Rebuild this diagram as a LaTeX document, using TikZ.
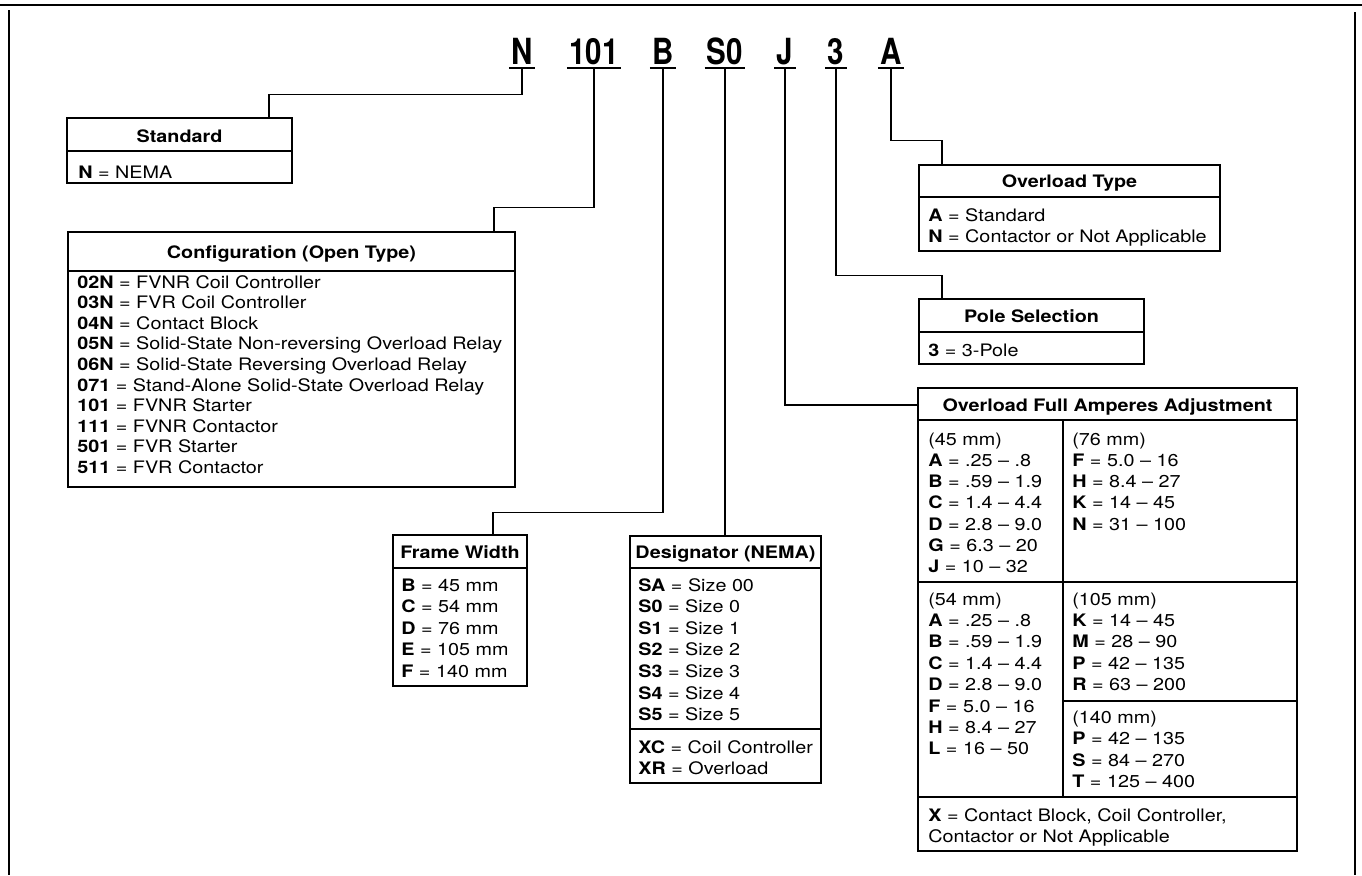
\documentclass[tikz,border=0pt]{standalone}
\usepackage{fontspec}
\setmainfont{TeX Gyre Heros}[FakeStretch=1.15]
\newfontfamily\codefont{TeX Gyre Heros}[FakeStretch=0.82]
\newcommand{\bodyfont}{\fontsize{8.6pt}{10pt}\selectfont}
\usetikzlibrary{fit, calc, positioning}

\begin{document}
\begin{tikzpicture}[
    x=0.5pt,
    y=-0.5pt,
    % Estilos del catalogo
    code char/.style={font=\codefont\bfseries\fontsize{18pt}{18pt}\selectfont, inner xsep=1pt, inner ysep=1.75pt, text depth=0pt, anchor=base},
    code rule/.style={line width=1.4pt},
    link/.style={line width=0.9pt},
    table box/.style={draw, line width=0.9pt, inner sep=0pt},
    table rule/.style={line width=0.8pt},
    table head/.style={font=\bodyfont\bfseries, anchor=base, inner sep=0pt},
    table line/.style={font=\bodyfont, anchor=base west, inner sep=0pt}
]
    \useasboundingbox (0,0) rectangle (1362,875);

    % --- 1. MARCO ---
    \draw[line width=1.4pt] (0,5) -- (1362,5);
    \draw[link] (9,10) -- (9,875);
    \draw[link] (1355,12) -- (1355,875);

    % --- 2. CODIGO DE CATALOGO ---
    \node[code char] (cN) at (522,64) {N};
    \node[code char] (cType) at (594,64) {101};
    \node[code char] (cFrame) at (663,64) {B};
    \node[code char] (cSize) at (725,64) {S0};
    \node[code char] (cAmp) at (785,64) {J};
    \node[code char] (cPole) at (836,64) {3};
    \node[code char] (cOvl) at (891,64) {A};
    \foreach \c in {cN, cType, cFrame, cSize, cAmp, cPole, cOvl}
        \draw[code rule] (\c.south west) -- (\c.south east);

    % --- 3. CAJAS ---
    \node[table box, fit={(67,118) (292,183)}] (stdbox) {};
    \node[table box, fit={(68,232) (515,487)}] (cfgbox) {};
    \node[table box, fit={(393,535) (527,686)}] (fwbox) {};
    \node[table box, fit={(630,536) (821,783)}] (desbox) {};
    \node[table box, fit={(919,165) (1220,251)}] (oltbox) {};
    \node[table box, fit={(919,299) (1144,364)}] (polebox) {};
    \node[table box, fit={(918,388) (1297,851)}] (ampbox) {};

    % --- 4. CONECTORES ---
    \path (stdbox.north east) ++(-24,0) coordinate (stdin);
    \path (cfgbox.north east) ++(-22,0) coordinate (cfgin);
    \path (fwbox.north east) ++(-35,0) coordinate (fwin);
    \path (ampbox.north west) ++(0,18) coordinate (ampin);
    \path (polebox.north west) ++(24,0) coordinate (polein);
    \path (oltbox.north west) ++(24,0) coordinate (oltin);
    \draw[link] (cN.south) -- ++(0,26.5) -| (stdin);
    \draw[link] (cType.south) -- ++(0,139.5) -| (cfgin);
    \draw[link] (cFrame.south) -- ++(0,444.5) -| (fwin);
    \draw[link] (cSize.south) -- (cSize.south |- desbox.north);
    \draw[link] (cAmp.south) |- (ampin);
    \draw[link] (cPole.south) -- ++(0,207.5) -| (polein);
    \draw[link] (cOvl.south) -- ++(0,72.5) -| (oltin);

    % --- 5. STANDARD ---
    \node[table head] (stdhead) at ($(stdbox.north)+(0,25)$) {Standard};
    \draw[table rule] (67,151) -- (292,151);
    \node[table line] (std0) at (78,178) {\textbf{N} = NEMA};

    % --- 6. CONFIGURATION ---
    \node[table head] (cfghead) at ($(cfgbox.north)+(0,27)$) {Configuration (Open Type)};
    \draw[table rule] (68,271) -- (515,271);
    \foreach \k/\v [count=\i from 0] in {02N/FVNR Coil Controller, 03N/FVR Coil Controller,
        04N/Contact Block, 05N/Solid-State Non-reversing Overload Relay,
        06N/Solid-State Reversing Overload Relay, 071/Stand-Alone Solid-State Overload Relay,
        101/FVNR Starter, 111/FVNR Contactor, 501/FVR Starter, 511/FVR Contactor}
        \node[table line] (cfg\i) at (77,{288+20.6*\i}) {\textbf{\k} = \v};

    % --- 7. FRAME WIDTH ---
    \node[table head] (fwhead) at ($(fwbox.north)+(0,24)$) {Frame Width};
    \draw[table rule] (393,568) -- (527,568);
    \foreach \k/\v [count=\i from 0] in {B/45 mm, C/54 mm, D/76 mm, E/105 mm, F/140 mm}
        \node[table line] (fw\i) at (401,{591+21.5*\i}) {\textbf{\k} = \v};

    % --- 8. DESIGNATOR ---
    \node[table head] (deshead) at ($(desbox.north)+(0,23)$) {Designator (NEMA)};
    \draw[table rule] (630,568) -- (821,568);
    \foreach \k/\v [count=\i from 0] in {SA/Size 00, S0/Size 0, S1/Size 1, S2/Size 2,
        S3/Size 3, S4/Size 4, S5/Size 5}
        \node[table line] (des\i) at (638,{591+21.6*\i}) {\textbf{\k} = \v};
    \draw[table rule] (630,729) -- (821,729);
    \node[table line] (desXC) at (638,753) {\textbf{XC} = Coil Controller};
    \node[table line] (desXR) at (638,774) {\textbf{XR} = Overload};

    % --- 9. OVERLOAD TYPE ---
    \node[table head] (olthead) at ($(oltbox.north)+(0,23)$) {Overload Type};
    \draw[table rule] (919,197) -- (1220,197);
    \node[table line] (olt0) at (928,221) {\textbf{A} = Standard};
    \node[table line] (olt1) at (928,242) {\textbf{N} = Contactor or Not Applicable};

    % --- 10. POLE SELECTION ---
    \node[table head] (polehead) at ($(polebox.north)+(0,24)$) {Pole Selection};
    \draw[table rule] (919,332) -- (1144,332);
    \node[table line] (pole0) at (928,356) {\textbf{3} = 3-Pole};

    % --- 11. OVERLOAD FULL AMPERES ADJUSTMENT ---
    \node[table head] (amphead) at ($(ampbox.north)+(0,24)$) {Overload Full Amperes Adjustment};
    \draw[table rule] (918,420) -- (1297,420);
    \draw[table rule] (1063,420) -- (1063,797);
    \draw[table rule] (918,582) -- (1297,582);
    \draw[table rule] (1063,701) -- (1297,701);
    \draw[table rule] (918,797) -- (1297,797);
    % 45 mm
    \node[table line] (a45) at (928,445) {(45 mm)};
    \foreach \k/\v [count=\i from 1] in {A/.25 -- .8, B/.59 -- 1.9, C/1.4 -- 4.4,
        D/2.8 -- 9.0, G/6.3 -- 20, J/10 -- 32}
        \node[table line] (a45\i) at (928,{445+21.3*\i}) {\textbf{\k} = \v};
    % 54 mm
    \node[table line] (a54) at (928,605) {(54 mm)};
    \foreach \k/\v [count=\i from 1] in {A/.25 -- .8, B/.59 -- 1.9, C/1.4 -- 4.4,
        D/2.8 -- 9.0, F/5.0 -- 16, H/8.4 -- 27, L/16 -- 50}
        \node[table line] (a54\i) at (928,{605+21.4*\i}) {\textbf{\k} = \v};
    % 76 mm
    \node[table line] (a76) at (1072,445) {(76 mm)};
    \foreach \k/\v [count=\i from 1] in {F/5.0 -- 16, H/8.4 -- 27, K/14 -- 45, N/31 -- 100}
        \node[table line] (a76\i) at (1072,{445+21.3*\i}) {\textbf{\k} = \v};
    % 105 mm
    \node[table line] (a105) at (1072,605) {(105 mm)};
    \foreach \k/\v [count=\i from 1] in {K/14 -- 45, M/28 -- 90, P/42 -- 135, R/63 -- 200}
        \node[table line] (a105\i) at (1072,{605+21.4*\i}) {\textbf{\k} = \v};
    % 140 mm
    \node[table line] (a140) at (1072,723) {(140 mm)};
    \foreach \k/\v [count=\i from 1] in {P/42 -- 135, S/84 -- 270, T/125 -- 400}
        \node[table line] (a140\i) at (1072,{723+21.5*\i}) {\textbf{\k} = \v};
    % X
    \node[table line] (aX1) at (928,821) {\textbf{X} = Contact Block, Coil Controller,};
    \node[table line] (aX2) at (928,842) {Contactor or Not Applicable};

\end{tikzpicture}
\end{document}
